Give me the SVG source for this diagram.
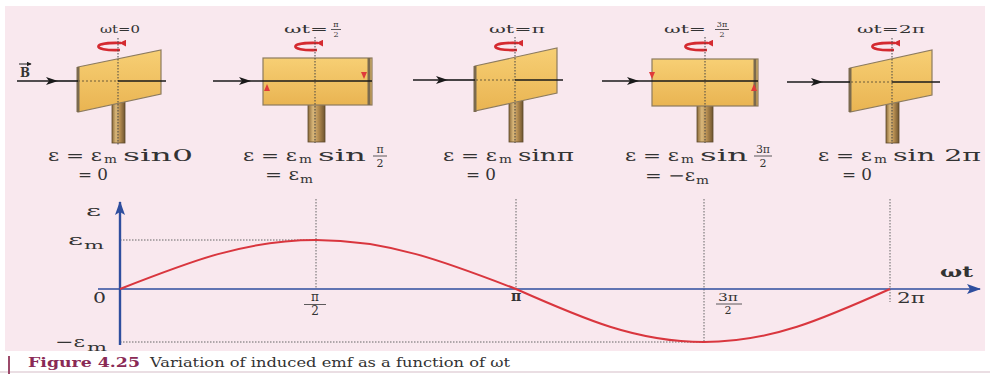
<svg xmlns="http://www.w3.org/2000/svg" width="990" height="374" viewBox="0 0 990 374">
  <defs>
    <linearGradient id="plate" x1="0" y1="0" x2="0" y2="1">
      <stop offset="0" stop-color="#f7cf74"/>
      <stop offset="1" stop-color="#e9b452"/>
    </linearGradient>
    <linearGradient id="stem" x1="0" y1="0" x2="1" y2="0">
      <stop offset="0" stop-color="#8a6a3a"/>
      <stop offset="0.3" stop-color="#d9b77a"/>
      <stop offset="0.6" stop-color="#b88f52"/>
      <stop offset="1" stop-color="#6f5530"/>
    </linearGradient>
    <marker id="ah" viewBox="0 0 12 8" refX="11" refY="4" markerWidth="12" markerHeight="8" markerUnits="userSpaceOnUse" orient="auto">
      <path d="M0 0 L12 4 L0 8 L3 4 Z" fill="#1a1a1a"/>
    </marker>
    <marker id="axh" viewBox="0 0 14 10" refX="13" refY="5" markerWidth="14" markerHeight="10" markerUnits="userSpaceOnUse" orient="auto">
      <path d="M0 0 L14 5 L0 10 L3 5 Z" fill="#2e4e9e"/>
    </marker>
    <marker id="rot" viewBox="0 0 8 8" refX="6" refY="4" markerWidth="7" markerHeight="7" markerUnits="userSpaceOnUse" orient="auto">
      <path d="M0 0 L8 4 L0 8 Z" fill="#d42a30"/>
    </marker>
    <marker id="vec" viewBox="0 0 8 8" refX="7" refY="4" markerWidth="5" markerHeight="5" markerUnits="userSpaceOnUse" orient="auto">
      <path d="M0 0 L8 4 L0 8 Z" fill="#222"/>
    </marker>
  </defs>
  <style>
    .t { font-family: "DejaVu Serif", "Liberation Serif", serif; fill: #333; }
    .lbl { font-size: 11px; }
    .eq { font-size: 16px; }
    .sub { font-size: 11px; }
    .fr { font-size: 11px; }
    .ax { font-size: 15px; }
    .plate { fill: url(#plate); stroke: #8c7b5f; stroke-width: 1.2; }
    .edge { stroke: #7b6a4e; stroke-width: 3; }
    .stem { fill: url(#stem); stroke: #5e4a2c; stroke-width: 0.8; }
    .axis { stroke: #444; stroke-width: 1; stroke-dasharray: 1.5 1.5; }
    .field { stroke: #1a1a1a; stroke-width: 1.6; fill: none; }
    .hidden { stroke: #6b5a3a; stroke-width: 1; stroke-dasharray: 2 2; }
    .spin { fill: none; stroke: #d42a30; stroke-width: 2.6; }
    .guide { stroke: #666; stroke-width: 1; stroke-dasharray: 1.5 1.5; fill: none; }
    .bar { stroke: #333; stroke-width: 0.8; }
    .redtip { fill: #e03a3a; }
  </style>

  <!-- page -->
  <rect x="0" y="0" width="990" height="374" fill="#ffffff"/>
  <rect x="5" y="6" width="980" height="345" fill="#f9e8ee"/>

  <!-- coil at wt = 0 -->
  <g id="coil-0">
    <text class="t lbl" x="100" y="33" textLength="40" lengthAdjust="spacingAndGlyphs">ωt=0</text>
    <path class="spin" d="M121 43 C 92 42, 90 51, 120 50" marker-start="url(#rot)"/>
    <rect class="stem" x="112" y="98" width="13" height="45"/>
    <polygon class="plate" points="78,67 161,50 161,94 78,112"/>
    <line class="edge" x1="78" y1="67" x2="78" y2="112"/>
    <line class="axis" x1="118" y1="38" x2="118" y2="145"/>
    <line class="hidden" x1="78" y1="81" x2="118" y2="81"/>
    <line class="field" x1="17" y1="81" x2="57" y2="81" marker-end="url(#ah)"/>
    <line class="field" x1="57" y1="81" x2="78" y2="81"/>
    <line class="field" x1="118" y1="81" x2="166" y2="81"/>
    <text class="t" x="20" y="77" font-size="12" font-weight="bold" textLength="10" lengthAdjust="spacingAndGlyphs">B</text>
    <line x1="19" y1="64" x2="31" y2="64" stroke="#222" stroke-width="1" marker-end="url(#vec)"/>
    <text class="t eq" x="48" y="161" textLength="54" lengthAdjust="spacingAndGlyphs">ε = ε</text>
    <text class="t sub" x="104" y="163" textLength="13" lengthAdjust="spacingAndGlyphs">m</text>
    <text class="t eq" x="123" y="161" textLength="70" lengthAdjust="spacingAndGlyphs">sin0</text>
    <text class="t eq" x="78" y="180" textLength="30" lengthAdjust="spacingAndGlyphs">= 0</text>
  </g>

  <!-- coil at wt = pi/2 -->
  <g id="coil-90">
    <text class="t lbl" x="284" y="33" textLength="44" lengthAdjust="spacingAndGlyphs">ωt=</text>
    <text class="t" x="336" y="27" font-size="8" text-anchor="middle">π</text>
    <line class="bar" x1="331" y1="29.5" x2="341" y2="29.5"/>
    <text class="t" x="336" y="37" font-size="8" text-anchor="middle">2</text>
    <path class="spin" d="M318 43 C 289 42, 287 51, 317 50" marker-start="url(#rot)"/>
    <rect class="stem" x="308" y="104" width="17" height="38"/>
    <rect class="plate" x="263" y="58" width="109" height="47"/>
    <line class="edge" x1="369" y1="58" x2="369" y2="105" stroke-width="4"/>
    <line class="axis" x1="315" y1="37" x2="315" y2="143"/>
    <line class="field" x1="213" y1="81" x2="250" y2="81" marker-end="url(#ah)"/>
    <line class="field" x1="250" y1="81" x2="372" y2="81" stroke="#4a3a22" stroke-width="1.2"/>
    <polygon class="redtip" points="264,91 267,84 270,91"/>
    <polygon class="redtip" points="361,72 364,79 367,72"/>
    <text class="t eq" x="243" y="161" textLength="54" lengthAdjust="spacingAndGlyphs">ε = ε</text>
    <text class="t sub" x="299" y="163" textLength="13" lengthAdjust="spacingAndGlyphs">m</text>
    <text class="t eq" x="318" y="161" textLength="48" lengthAdjust="spacingAndGlyphs">sin</text>
    <text class="t fr" x="380" y="153" text-anchor="middle">π</text>
    <line class="bar" x1="373" y1="156" x2="387" y2="156"/>
    <text class="t fr" x="380" y="167" text-anchor="middle">2</text>
    <text class="t eq" x="265" y="180" textLength="34" lengthAdjust="spacingAndGlyphs">= ε</text>
    <text class="t sub" x="300" y="183" textLength="13" lengthAdjust="spacingAndGlyphs">m</text>
  </g>

  <!-- coil at wt = pi -->
  <g id="coil-180">
    <text class="t lbl" x="489" y="33" textLength="56" lengthAdjust="spacingAndGlyphs">ωt=π</text>
    <path class="spin" d="M518 43 C 489 42, 487 51, 517 50" marker-start="url(#rot)"/>
    <rect class="stem" x="509" y="96" width="14" height="46"/>
    <polygon class="plate" points="475,66 557,48 557,93 475,111"/>
    <line class="edge" x1="475" y1="66" x2="475" y2="112"/>
    <line class="axis" x1="515" y1="37" x2="515" y2="143"/>
    <line class="hidden" x1="476" y1="80" x2="515" y2="80"/>
    <line class="field" x1="413" y1="80" x2="447" y2="80" marker-end="url(#ah)"/>
    <line class="field" x1="447" y1="80" x2="475" y2="80"/>
    <line class="field" x1="515" y1="80" x2="563" y2="80"/>
    <text class="t eq" x="443" y="161" textLength="54" lengthAdjust="spacingAndGlyphs">ε = ε</text>
    <text class="t sub" x="499" y="163" textLength="13" lengthAdjust="spacingAndGlyphs">m</text>
    <text class="t eq" x="518" y="161" textLength="56" lengthAdjust="spacingAndGlyphs">sinπ</text>
    <text class="t eq" x="466" y="180" textLength="30" lengthAdjust="spacingAndGlyphs">= 0</text>
  </g>

  <!-- coil at wt = 3pi/2 -->
  <g id="coil-270">
    <text class="t lbl" x="664" y="33" textLength="42" lengthAdjust="spacingAndGlyphs">ωt=</text>
    <text class="t" x="722" y="27" font-size="8" text-anchor="middle">3π</text>
    <line class="bar" x1="715" y1="29.5" x2="729" y2="29.5"/>
    <text class="t" x="722" y="37" font-size="8" text-anchor="middle">2</text>
    <path class="spin" d="M708 43 C 679 42, 677 51, 707 50" marker-start="url(#rot)"/>
    <rect class="stem" x="697" y="104" width="16" height="38"/>
    <rect class="plate" x="652" y="59" width="106" height="47"/>
    <line class="edge" x1="755" y1="59" x2="755" y2="106" stroke-width="4"/>
    <line class="axis" x1="705" y1="37" x2="705" y2="143"/>
    <line class="field" x1="602" y1="81" x2="638" y2="81" marker-end="url(#ah)"/>
    <line class="field" x1="638" y1="81" x2="758" y2="81" stroke="#4a3a22" stroke-width="1.2"/>
    <polygon class="redtip" points="649,72 652,79 655,72"/>
    <polygon class="redtip" points="751,91 754,84 757,91"/>
    <text class="t eq" x="625" y="161" textLength="54" lengthAdjust="spacingAndGlyphs">ε = ε</text>
    <text class="t sub" x="681" y="163" textLength="13" lengthAdjust="spacingAndGlyphs">m</text>
    <text class="t eq" x="700" y="161" textLength="48" lengthAdjust="spacingAndGlyphs">sin</text>
    <text class="t fr" x="763" y="153" text-anchor="middle">3π</text>
    <line class="bar" x1="754" y1="156" x2="772" y2="156"/>
    <text class="t fr" x="763" y="167" text-anchor="middle">2</text>
    <text class="t eq" x="645" y="181" textLength="50" lengthAdjust="spacingAndGlyphs">= −ε</text>
    <text class="t sub" x="696" y="184" textLength="13" lengthAdjust="spacingAndGlyphs">m</text>
  </g>

  <!-- coil at wt = 2pi -->
  <g id="coil-360">
    <text class="t lbl" x="857" y="33" textLength="68" lengthAdjust="spacingAndGlyphs">ωt=2π</text>
    <path class="spin" d="M895 43 C 866 42, 864 51, 894 50" marker-start="url(#rot)"/>
    <rect class="stem" x="886" y="98" width="13" height="45"/>
    <polygon class="plate" points="850,68 932,50 932,95 850,112"/>
    <line class="edge" x1="850" y1="68" x2="850" y2="112"/>
    <line class="axis" x1="892" y1="38" x2="892" y2="144"/>
    <line class="hidden" x1="851" y1="82" x2="892" y2="82"/>
    <line class="field" x1="787" y1="82" x2="822" y2="82" marker-end="url(#ah)"/>
    <line class="field" x1="822" y1="82" x2="850" y2="82"/>
    <line class="field" x1="892" y1="82" x2="940" y2="82"/>
    <text class="t eq" x="818" y="161" textLength="54" lengthAdjust="spacingAndGlyphs">ε = ε</text>
    <text class="t sub" x="874" y="163" textLength="13" lengthAdjust="spacingAndGlyphs">m</text>
    <text class="t eq" x="893" y="161" textLength="88" lengthAdjust="spacingAndGlyphs">sin 2π</text>
    <text class="t eq" x="842" y="180" textLength="30" lengthAdjust="spacingAndGlyphs">= 0</text>
  </g>

  <!-- emf graph -->
  <g id="graph">
    <line class="guide" x1="120" y1="240" x2="316" y2="240"/>
    <line class="guide" x1="120" y1="342" x2="704" y2="342"/>
    <line class="guide" x1="316" y1="199" x2="316" y2="289"/>
    <line class="guide" x1="516" y1="199" x2="516" y2="289"/>
    <line class="guide" x1="704" y1="199" x2="704" y2="342"/>
    <line class="guide" x1="890" y1="199" x2="890" y2="302"/>
    <line x1="98" y1="289" x2="980" y2="289" stroke="#2e4e9e" stroke-width="1.3" marker-end="url(#axh)"/>
    <line x1="120" y1="345" x2="120" y2="202" stroke="#2e4e9e" stroke-width="2.4" marker-end="url(#axh)"/>
    <path d="M120 289 C 190.6 261.3, 245.4 240, 316 240 C 388 240, 444 261.3, 516 289 C 583.7 319, 636.3 342, 704 342 C 771 342, 823 319, 890 289" fill="none" stroke="#d9363e" stroke-width="2"/>
    <text class="t ax" x="86" y="216" textLength="15" lengthAdjust="spacingAndGlyphs">ε</text>
    <text class="t ax" x="68" y="245" textLength="15" lengthAdjust="spacingAndGlyphs">ε</text>
    <text class="t sub" x="84" y="249" textLength="20" lengthAdjust="spacingAndGlyphs">m</text>
    <text class="t ax" x="93" y="303" textLength="13" lengthAdjust="spacingAndGlyphs">0</text>
    <text class="t ax" x="55" y="347" textLength="30" lengthAdjust="spacingAndGlyphs">−ε</text>
    <text class="t sub" x="87" y="351" textLength="20" lengthAdjust="spacingAndGlyphs">m</text>
    <text class="t" x="315" y="301" font-size="12" text-anchor="middle">π</text>
    <line class="bar" x1="304" y1="304.5" x2="326" y2="304.5"/>
    <text class="t" x="315" y="315" font-size="12" text-anchor="middle">2</text>
    <text class="t" x="516" y="301" font-size="14" text-anchor="middle" font-weight="bold">π</text>
    <text class="t" x="728" y="301" font-size="11" text-anchor="middle" textLength="20" lengthAdjust="spacingAndGlyphs">3π</text>
    <line class="bar" x1="716" y1="304" x2="742" y2="304"/>
    <text class="t" x="728" y="314" font-size="11" text-anchor="middle">2</text>
    <text class="t" x="897" y="303" font-size="14" textLength="28" lengthAdjust="spacingAndGlyphs">2π</text>
    <text class="t" x="940" y="277" font-size="14" font-weight="bold" textLength="33" lengthAdjust="spacingAndGlyphs">ωt</text>
  </g>

  <!-- caption -->
  <g id="caption">
    <line x1="0" y1="372" x2="990" y2="372" stroke="#e3d3da" stroke-width="1.5"/>
    <line x1="9" y1="356" x2="9" y2="374" stroke="#9c4a6a" stroke-width="2"/>
    <text x="28" y="367" font-family="DejaVu Serif, serif" font-size="13" font-weight="bold" fill="#8a2a55" textLength="112" lengthAdjust="spacingAndGlyphs">Figure 4.25</text>
    <text x="150" y="367" font-family="DejaVu Serif, serif" font-size="13" fill="#333" textLength="360" lengthAdjust="spacingAndGlyphs">Variation of induced emf as a function of ωt</text>
  </g>
</svg>
